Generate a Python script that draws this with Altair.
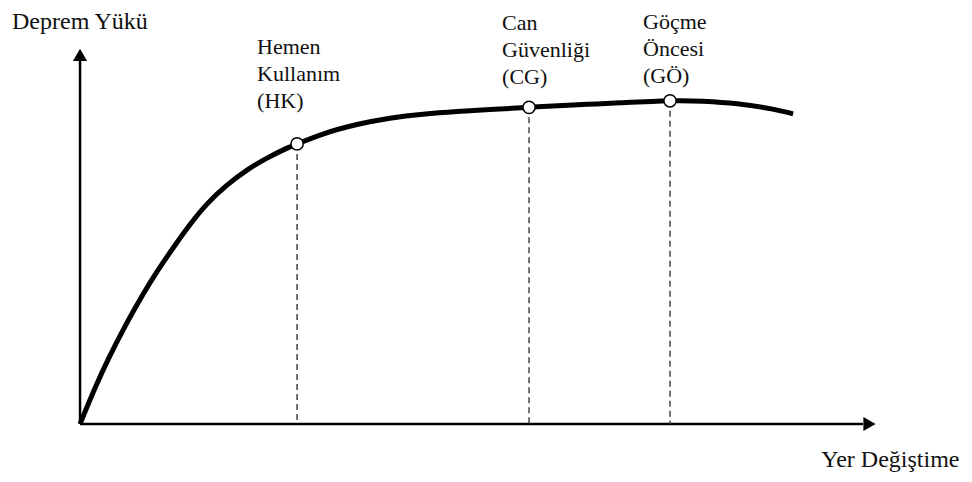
import altair as alt
import pandas as pd

# Capacity (pushover) curve, arbitrary units
displacement = [0, 1.89, 3.77, 5.66, 7.80, 9.81, 11.95, 13.84, 15.97, 18.49, 21.01,
                23.52, 26.04, 27.30, 30.57, 34.84, 38.99, 43.14, 47.42, 51.57, 56.48,
                59.50, 63.77, 67.92, 74.21, 78.36, 82.64, 86.79, 89.69]
load = [0, 9.50, 18.02, 25.75, 33.75, 40.58, 47.18, 52.64, 58.02, 63.03, 66.99,
        70.16, 72.80, 73.91, 76.52, 79.02, 80.69, 81.74, 82.45, 82.98, 83.56,
        83.91, 84.35, 84.75, 85.28, 85.15, 84.49, 83.22, 81.85]

# Performance levels
level_names = ["Hemen\nKullanım\n(HK)", "Can\nGüvenliği\n(CG)", "Göçme\nÖncesi\n(GÖ)"]
level_disp = [27.30, 56.48, 74.21]
level_load = [73.91, 83.56, 85.28]

x_title = "Yer Değiştime"
y_title = "Deprem Yükü"

# axis extents (arrows)
axis_end = 98.5
y_axis_end = 96.0
x_arrow = 99.3
y_arrow = 97.4

W, H = 956, 466
xs = alt.Scale(domain=[-9.06, 111.19], nice=False, zero=False)
ys = alt.Scale(domain=[-13.19, 109.77], nice=False, zero=False)
FONT = "Liberation Serif"

curve = pd.DataFrame({"d": displacement, "f": load})
levels = pd.DataFrame({"d": level_disp, "f": level_load, "name": level_names,
                       "zero": [0] * 3})
axes_df = pd.DataFrame({"x": [0, 0], "x2": [axis_end, 0], "y": [0, 0], "y2": [0, y_axis_end]})
arrows_df = pd.DataFrame({"x": [x_arrow, 0], "y": [0, y_arrow],
                          "shape": ["triangle-right", "triangle-up"],
                          "title": [x_title, y_title]})

X = lambda f: alt.X(f, scale=xs, axis=None)
Y = lambda f: alt.Y(f, scale=ys, axis=None)

line = alt.Chart(curve).mark_line(color="black", strokeWidth=5, interpolate="natural").encode(
    x=X("d:Q"), y=Y("f:Q"))

axes_rules = alt.Chart(axes_df).mark_rule(color="black", strokeWidth=2.5).encode(
    x=X("x:Q"), x2="x2:Q", y=Y("y:Q"), y2="y2:Q")

arrows = alt.Chart(arrows_df).mark_point(filled=True, color="black", opacity=1, size=200).encode(
    x=X("x:Q"), y=Y("y:Q"),
    shape=alt.Shape("shape:N", scale=None, legend=None),
)

x_title_mark = alt.Chart(arrows_df).transform_filter(alt.datum.title == x_title).mark_text(
    align="right", baseline="alphabetic", dx=90, dy=43, font=FONT, fontSize=24,
    color="#111").encode(x=X("x:Q"), y=Y("y:Q"), text="title:N")

y_title_mark = alt.Chart(arrows_df).transform_filter(alt.datum.title == y_title).mark_text(
    align="left", baseline="alphabetic", dx=-68, dy=-26, font=FONT, fontSize=24,
    color="#111").encode(x=X("x:Q"), y=Y("y:Q"), text="title:N")

dashes = alt.Chart(levels).mark_rule(color="#444", strokeWidth=1.5, strokeDash=[6, 4]).encode(
    x=X("d:Q"), y=Y("f:Q"), y2="zero:Q")

points = alt.Chart(levels).mark_point(filled=True, fill="white", stroke="black",
                                      strokeWidth=1.5, size=150, opacity=1,
                                      fillOpacity=1).encode(x=X("d:Q"), y=Y("f:Q"))

offsets = [(-40, -90), (-27, -77), (-27, -72)]
texts = []
for name, (dx, dy) in zip(level_names, offsets):
    texts.append(
        alt.Chart(levels).transform_filter(alt.datum.name == name).mark_text(
            align="left", baseline="alphabetic", dx=dx, dy=dy, lineBreak="\n",
            lineHeight=27, font=FONT, fontSize=22, color="#111").encode(
            x=X("d:Q"), y=Y("f:Q"), text="name:N")
    )

chart = alt.layer(line, axes_rules, arrows, dashes, points, x_title_mark, y_title_mark,
                  *texts).properties(
    width=W, height=H, padding=0, background="white",
    autosize=alt.AutoSizeParams(type="none")
).configure_view(stroke=None)

chart.save("out.html", embed_options={"renderer": "svg", "actions": False})
